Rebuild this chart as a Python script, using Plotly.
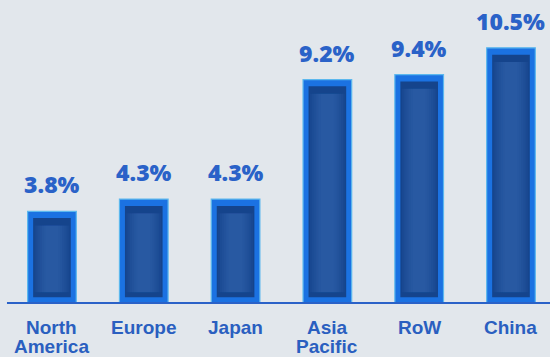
import plotly.graph_objects as go

categories = ["North America", "Europe", "Japan", "Asia Pacific", "RoW", "China"]
label_lines = [["North", "America"], ["Europe"], ["Japan"], ["Asia", "Pacific"], ["RoW"], ["China"]]
values = [3.8, 4.3, 4.3, 9.2, 9.4, 10.5]
value_text = ["3.8%", "4.3%", "4.3%", "9.2%", "9.4%", "10.5%"]

x = list(range(len(categories)))
bevel = 0.28

fig = go.Figure()
# outer bright frame
fig.add_trace(go.Bar(x=x, y=values, width=0.53,
                     marker=dict(color="#1b72e2", line=dict(color="#5cb8ee", width=1.2)),
                     hoverinfo="skip"))
# dark interior
fig.add_trace(go.Bar(x=x, y=[v - 2 * bevel for v in values], base=[bevel] * len(values), width=0.41,
                     marker=dict(color="#15448c", line=dict(width=0)), hoverinfo="skip"))
# soft lighter centre (gradient approximation)
for w in [0.38, 0.34, 0.30, 0.26, 0.22, 0.18, 0.14]:
    fig.add_trace(go.Bar(x=x, y=[v - 2 * bevel - 0.5 for v in values], base=[bevel + 0.2] * len(values),
                         width=w, marker=dict(color="#3d6cb8", opacity=0.12, line=dict(width=0)),
                         hoverinfo="skip"))

annotations = []
for i, (v, t) in enumerate(zip(values, value_text)):
    annotations.append(dict(x=i, y=v, xref="x", yref="y", text=t, showarrow=False,
                            yanchor="middle", yshift=27,
                            font=dict(family="Open Sans", size=23, color="#2a62c8", weight=800)))
    for j, line in enumerate(label_lines[i]):
        annotations.append(dict(x=i, y=0, xref="x", yref="y", text=line, showarrow=False,
                                yanchor="middle", yshift=-23 - 19 * j,
                                font=dict(family="Liberation Sans", size=19, color="#2a5fc0",
                                          weight="bold")))

fig.add_shape(type="line", xref="x", yref="y", x0=-0.49, x1=5.5, y0=0, y1=0,
              line=dict(color="#2a62c8", width=4), layer="above")

fig.update_layout(
    width=550, height=357, barmode="overlay", showlegend=False,
    margin=dict(l=0, r=0, t=0, b=53),
    paper_bgcolor="#e2e7ec", plot_bgcolor="#e2e7ec",
    xaxis=dict(range=[-0.566, 5.425], showticklabels=False, showgrid=False, zeroline=False,
               showline=False),
    yaxis=dict(range=[0, 12.46], showticklabels=False, showgrid=False, zeroline=False,
               showline=False),
    annotations=annotations,
)
fig.write_html("out.html")
